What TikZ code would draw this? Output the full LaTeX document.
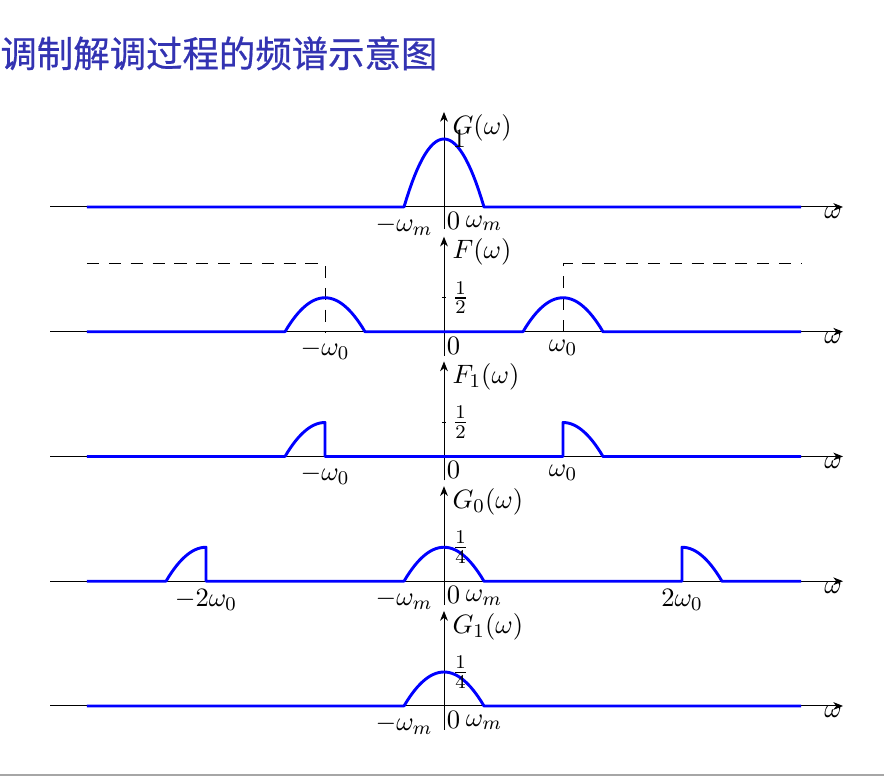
\documentclass[tikz,border=0pt]{standalone}
\usepackage{amsmath}
\usepackage{fontspec}
\usepackage{tikz}
\usetikzlibrary{arrows}
\usetikzlibrary{arrows.meta}
\newfontfamily\cjk[FakeBold=0.6]{Noto Sans CJK SC}
\tikzset{axis/.style = {-{Stealth[length=4pt, width=3.2pt, inset=1.2pt]}, line width=0.4pt}}
\tikzset{spec/.style = {blue, line width=1.2pt, line join=round}}
\tikzset{filt/.style = {dash pattern=on 5pt off 4pt, line width=0.4pt}}
\tikzset{zero/.style = {below right, inner sep=2pt, xshift=-1pt}}
\tikzset{every node/.style = {font=\fontsize{11}{13}\selectfont}}
\definecolor{mtitle}{rgb}{0.2, 0.2, 0.7}
\def\wm{0.336}

\begin{document}
\begin{tikzpicture}[x=1.7231cm, y=0.9846cm]
      \useasboundingbox (-3.7311, -8.4265) rectangle (3.6975, 3.0441);

      \node [anchor=west, inner sep=0pt, text=mtitle, font=\cjk\fontsize{15}{18}\selectfont] (title) at (-3.7311, 2.26) {调制解调过程的频谱示意图};
      \draw [black!35, line width=1.2pt] (-3.7311, -8.353) -- (3.6975, -8.353);

      % G(w)
      \draw [axis] (-3.31, 0) -- (3.353, 0);
      \draw [axis] (0, -0.32) -- (0, 1.397);
      \draw (-0.017, 1) -- (0.017, 1);
      \draw [spec] (-3, 0) -- (-\wm, 0) -- plot [domain=-\wm:\wm, samples=31] (\x, {1 - (\x/\wm)^2}) -- (3, 0);
      \node [right] (nameG) at (0, 1.17) {$G(\omega)$};
      \node [right] (oneG) at (0, 1) {$1$};
      \node [below] (wmlG) at (-\wm, 0) {$-\omega_m$};
      \node [zero] (zeroG) at (0, 0) {$0$};
      \node [below] (wmrG) at (\wm, 0) {$\omega_m$};
      \node [below, inner sep=0pt] (wG) at (3.27, 0) {$\omega$};

      % F(w)
      \begin{scope}[shift={(0, -1.8346)}]
      \draw [axis] (-3.31, 0) -- (3.353, 0);
      \draw [axis] (0, -0.35) -- (0, 1.397);
      \draw (-0.017, 0.5) -- (0.017, 0.5);
      \draw [filt] (-3, 1) -- (-1, 1) -- (-1, 0);
      \draw [filt] (1, 0) -- (1, 1) -- (3, 1);
      \draw [spec] (-3, 0) -- (-1-\wm, 0) -- plot [domain=-1-\wm:-1+\wm, samples=31] (\x, {0.5*(1 - ((\x+1)/\wm)^2)}) -- (1-\wm, 0) -- plot [domain=1-\wm:1+\wm, samples=31] (\x, {0.5*(1 - ((\x-1)/\wm)^2)}) -- (3, 0);
      \node [right] (nameF) at (0, 1.17) {$F(\omega)$};
      \node [right] (halfF) at (0, 0.5) {$\frac{1}{2}$};
      \node [below] (wolF) at (-1, 0) {$-\omega_0$};
      \node [zero] (zeroF) at (0, 0) {$0$};
      \node [below] (worF) at (1, 0) {$\omega_0$};
      \node [below, inner sep=0pt] (wF) at (3.27, 0) {$\omega$};
      \end{scope}

      % F_1(w)
      \begin{scope}[shift={(0, -3.6692)}]
      \draw [axis] (-3.31, 0) -- (3.353, 0);
      \draw [axis] (0, -0.35) -- (0, 1.397);
      \draw (-0.017, 0.5) -- (0.017, 0.5);
      \draw [spec] (-3, 0) -- (-1-\wm, 0) -- plot [domain=-1-\wm:-1, samples=16] (\x, {0.5*(1 - ((\x+1)/\wm)^2)}) -- (-1, 0) -- (1, 0) -- plot [domain=1:1+\wm, samples=16] (\x, {0.5*(1 - ((\x-1)/\wm)^2)}) -- (3, 0);
      \node [right] (nameFa) at (0, 1.17) {$F_1(\omega)$};
      \node [right] (halfFa) at (0, 0.5) {$\frac{1}{2}$};
      \node [below] (wolFa) at (-1, 0) {$-\omega_0$};
      \node [zero] (zeroFa) at (0, 0) {$0$};
      \node [below] (worFa) at (1, 0) {$\omega_0$};
      \node [below, inner sep=0pt] (wFa) at (3.27, 0) {$\omega$};
      \end{scope}

      % G_0(w)
      \begin{scope}[shift={(0, -5.5038)}]
      \draw [axis] (-3.31, 0) -- (3.353, 0);
      \draw [axis] (0, -0.35) -- (0, 1.397);
      \draw [spec] (-3, 0) -- (-2-\wm, 0) -- plot [domain=-2-\wm:-2, samples=16] (\x, {0.5*(1 - ((\x+2)/\wm)^2)}) -- (-2, 0) -- (-\wm, 0) -- plot [domain=-\wm:\wm, samples=31] (\x, {0.5*(1 - (\x/\wm)^2)}) -- (2, 0) -- plot [domain=2:2+\wm, samples=16] (\x, {0.5*(1 - ((\x-2)/\wm)^2)}) -- (3, 0);
      \node [right] (nameGa) at (0, 1.17) {$G_0(\omega)$};
      \node [right] (quarterGa) at (0, 0.5) {$\frac{1}{4}$};
      \node [below] (wtlGa) at (-2, 0) {$-2\omega_0$};
      \node [below] (wmlGa) at (-\wm, 0) {$-\omega_m$};
      \node [zero] (zeroGa) at (0, 0) {$0$};
      \node [below] (wmrGa) at (\wm, 0) {$\omega_m$};
      \node [below] (wtrGa) at (2, 0) {$2\omega_0$};
      \node [below, inner sep=0pt] (wGa) at (3.27, 0) {$\omega$};
      \end{scope}

      % G_1(w)
      \begin{scope}[shift={(0, -7.3384)}]
      \draw [axis] (-3.31, 0) -- (3.353, 0);
      \draw [axis] (0, -0.35) -- (0, 1.397);
      \draw [spec] (-3, 0) -- (-\wm, 0) -- plot [domain=-\wm:\wm, samples=31] (\x, {0.5*(1 - (\x/\wm)^2)}) -- (3, 0);
      \node [right] (nameGb) at (0, 1.17) {$G_1(\omega)$};
      \node [right] (quarterGb) at (0, 0.5) {$\frac{1}{4}$};
      \node [below] (wmlGb) at (-\wm, 0) {$-\omega_m$};
      \node [zero] (zeroGb) at (0, 0) {$0$};
      \node [below] (wmrGb) at (\wm, 0) {$\omega_m$};
      \node [below, inner sep=0pt] (wGb) at (3.27, 0) {$\omega$};
      \end{scope}
    \end{tikzpicture}
\end{document}
